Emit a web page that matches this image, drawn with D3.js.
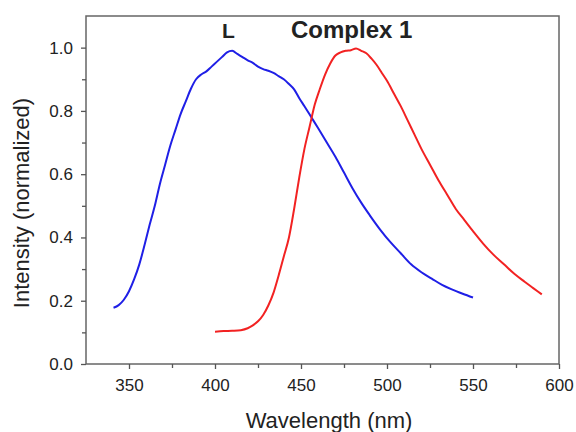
<!DOCTYPE html>
<html>
<head>
<meta charset="utf-8">
<script src="https://cdn.jsdelivr.net/npm/d3@7"></script>
<style>
  body { margin: 0; background: #fff; }
  text { font-family: "Liberation Sans", Arial, sans-serif; fill: #222; }
</style>
</head>
<body>
<div id="chart"></div>
<script>
// Emission spectra (wavelength nm, normalized intensity)
const ligandWl = [341, 344, 347, 350, 353, 356, 359, 362, 365, 368, 371, 374, 377, 380, 383, 386, 389, 392, 395, 398, 401, 404, 407, 410, 413, 416, 419, 422, 425, 428, 431, 434, 437, 440, 443, 446, 449, 452, 456, 460, 465, 470, 475, 480, 485, 490, 496, 502, 508, 514, 520, 526, 532, 538, 544, 550];
const ligandI  = [0.178, 0.186, 0.203, 0.23, 0.268, 0.315, 0.375, 0.44, 0.50, 0.57, 0.63, 0.69, 0.74, 0.79, 0.83, 0.87, 0.90, 0.915, 0.925, 0.94, 0.955, 0.97, 0.985, 0.99, 0.98, 0.97, 0.96, 0.952, 0.94, 0.932, 0.927, 0.92, 0.91, 0.90, 0.885, 0.868, 0.84, 0.815, 0.78, 0.745, 0.70, 0.655, 0.605, 0.555, 0.51, 0.47, 0.425, 0.385, 0.35, 0.315, 0.29, 0.27, 0.25, 0.235, 0.222, 0.21];

const complexWl = [400, 405, 410, 415, 419, 422, 425, 428, 431, 434, 437, 440, 443, 446, 449, 452, 455, 458, 461, 464, 467, 470, 473, 476, 479, 482, 485, 488, 491, 494, 497, 500, 504, 508, 512, 516, 520, 525, 530, 535, 540, 545, 550, 556, 562, 568, 574, 580, 585, 590];
const complexI  = [0.102, 0.104, 0.105, 0.107, 0.113, 0.122, 0.135, 0.155, 0.185, 0.225, 0.28, 0.34, 0.40, 0.49, 0.59, 0.68, 0.75, 0.82, 0.87, 0.915, 0.95, 0.975, 0.985, 0.99, 0.992, 0.997, 0.99, 0.982, 0.965, 0.945, 0.92, 0.895, 0.855, 0.815, 0.77, 0.725, 0.68, 0.63, 0.58, 0.535, 0.49, 0.455, 0.42, 0.38, 0.345, 0.315, 0.285, 0.26, 0.24, 0.22];

const xTicks = [350, 400, 450, 500, 550, 600];
const yTicks = [0.0, 0.2, 0.4, 0.6, 0.8, 1.0];

const W = 576, H = 432;
const margin = { top: 16, right: 17, bottom: 68, left: 86 };

const svg = d3.select("#chart").append("svg")
    .attr("width", W)
    .attr("height", H);

const x = d3.scaleLinear().domain([325, 600]).range([margin.left, W - margin.right]);
const y = d3.scaleLinear().domain([0, 1.1]).range([H - margin.bottom, margin.top]);

// frame
svg.append("rect")
    .attr("x", x(325)).attr("y", y(1.1))
    .attr("width", x(600) - x(325)).attr("height", y(0) - y(1.1))
    .attr("fill", "none").attr("stroke", "#666").attr("stroke-width", 1.5);

// minor ticks
const xMinor = d3.range(375, 600, 50);
const yMinor = d3.range(0.1, 1.05, 0.2);
svg.append("g")
    .attr("transform", "translate(0," + y(0) + ")")
    .call(d3.axisBottom(x).tickValues(xMinor).tickSize(4).tickFormat(""))
    .call(g => g.select(".domain").remove())
    .call(g => g.selectAll("line").attr("stroke", "#555").attr("stroke-width", 1.3));
svg.append("g")
    .attr("transform", "translate(" + x(325) + ",0)")
    .call(d3.axisLeft(y).tickValues(yMinor).tickSize(4).tickFormat(""))
    .call(g => g.select(".domain").remove())
    .call(g => g.selectAll("line").attr("stroke", "#555").attr("stroke-width", 1.3));

// major axes
svg.append("g")
    .attr("transform", "translate(0," + y(0) + ")")
    .call(d3.axisBottom(x).tickValues(xTicks).tickSize(5).tickPadding(10))
    .call(g => g.select(".domain").remove())
    .call(g => g.selectAll("line").attr("stroke", "#555").attr("stroke-width", 1.3))
    .call(g => g.selectAll("text").attr("font-size", 17).attr("fill", "#222")
        .style("font-family", "'Liberation Sans', Arial, sans-serif"));

svg.append("g")
    .attr("transform", "translate(" + x(325) + ",0)")
    .call(d3.axisLeft(y).tickValues(yTicks).tickSize(5).tickPadding(8).tickFormat(d3.format(".1f")))
    .call(g => g.select(".domain").remove())
    .call(g => g.selectAll("line").attr("stroke", "#555").attr("stroke-width", 1.3))
    .call(g => g.selectAll("text").attr("font-size", 17).attr("fill", "#222")
        .style("font-family", "'Liberation Sans', Arial, sans-serif"));

// curves
const line = d3.line()
    .x(d => x(d[0]))
    .y(d => y(d[1]))
    .curve(d3.curveMonotoneX);

svg.append("path")
    .datum(d3.zip(ligandWl, ligandI))
    .attr("fill", "none")
    .attr("stroke", "#1f1fe6")
    .attr("stroke-width", 2)
    .attr("d", line);

svg.append("path")
    .datum(d3.zip(complexWl, complexI))
    .attr("fill", "none")
    .attr("stroke", "#f22222")
    .attr("stroke-width", 2)
    .attr("d", line);

// labels
svg.append("text")
    .attr("x", 222).attr("y", 38)
    .attr("font-size", 21).attr("font-weight", "bold").attr("fill", "#111")
    .text("L");

svg.append("text")
    .attr("x", 291).attr("y", 38)
    .attr("font-size", 24).attr("font-weight", "bold").attr("fill", "#111")
    .text("Complex 1");

svg.append("text")
    .attr("x", 329).attr("y", 428)
    .attr("text-anchor", "middle")
    .attr("font-size", 22)
    .text("Wavelength (nm)");

svg.append("text")
    .attr("transform", "translate(29,203) rotate(-90)")
    .attr("text-anchor", "middle")
    .attr("font-size", 22)
    .text("Intensity (normalized)");
</script>
</body>
</html>
